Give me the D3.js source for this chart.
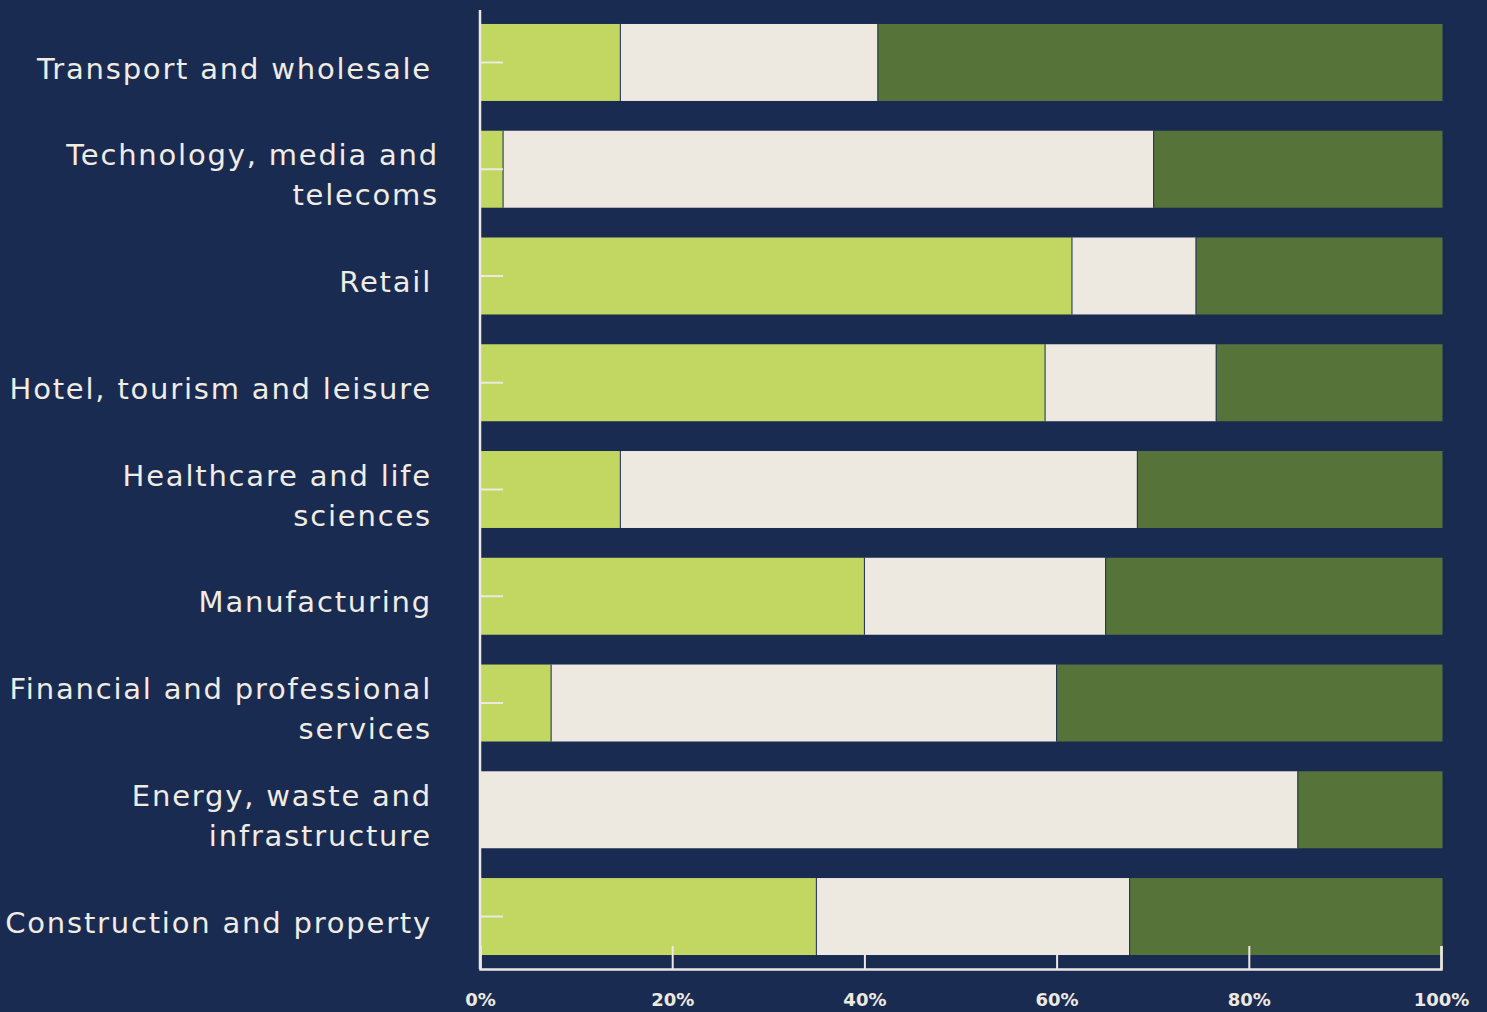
<!DOCTYPE html>
<html>
<head>
<meta charset="utf-8">
<title>Sectors stacked bar</title>
<script src="https://d3js.org/d3.v7.min.js"></script>
<style>
  body { margin: 0; background: #1a2b52; }
</style>
</head>
<body>
<script>
// data, top to bottom
const sectors = [
  ["Transport and wholesale"],
  ["Technology, media and", "telecoms"],
  ["Retail"],
  ["Hotel, tourism and leisure"],
  ["Healthcare and life", "sciences"],
  ["Manufacturing"],
  ["Financial and professional", "services"],
  ["Energy, waste and", "infrastructure"],
  ["Construction and property"]
];
const lightShare = [14.6, 2.4, 61.6, 58.8, 14.6, 40.0, 7.4, 0, 35.0];
const creamShare = [26.8, 67.7, 12.9, 17.8, 53.8, 25.1, 52.6, 85.1, 32.6];
const darkShare  = [58.6, 29.9, 25.5, 23.4, 31.6, 34.9, 40.0, 14.9, 32.4];
const xTicks = [0, 20, 40, 60, 80, 100];

const W = 1487, H = 1012;
const colors = ["#c1d762", "#ede9e0", "#56743a"];
const axisCol = "#ede9e0";

const svg = d3.select("body").append("svg")
  .attr("width", W).attr("height", H)
  .style("display", "block");

svg.append("rect").attr("width", W).attr("height", H).attr("fill", "#1a2b52");

const x = d3.scaleLinear().domain([0, 100]).range([480, 1441]);
const y = d3.scaleBand()
  .domain(d3.range(sectors.length))
  .range([10, 969])
  .paddingInner(0.279)
  .paddingOuter(0.131);

const rows = sectors.map((s, i) => ({i, parts: [lightShare[i], creamShare[i], darkShare[i]]}));

// stacked segments
rows.forEach(r => {
  let acc = 0;
  r.parts.forEach((v, k) => {
    if (v > 0) {
      svg.append("rect")
        .attr("x", x(acc))
        .attr("y", y(r.i))
        .attr("width", x(acc + v) - x(acc) + (k == 2 ? 1.5 : 0))
        .attr("height", y.bandwidth())
        .attr("fill", colors[k]);
      if (acc > 0) {
        svg.append("line")
          .attr("x1", x(acc)).attr("x2", x(acc))
          .attr("y1", y(r.i)).attr("y2", y(r.i) + y.bandwidth())
          .attr("stroke", "#1a2b52").attr("stroke-width", 1);
      }
    }
    acc += v;
  });
});

// y axis: line + inner ticks
svg.append("line")
  .attr("x1", 480).attr("x2", 480).attr("y1", 10).attr("y2", 969)
  .attr("stroke", axisCol).attr("stroke-width", 2.5);
svg.selectAll(".ytick").data(rows).join("line")
  .attr("x1", 480).attr("x2", 503)
  .attr("y1", d => y(d.i) + y.bandwidth() / 2)
  .attr("y2", d => y(d.i) + y.bandwidth() / 2)
  .attr("stroke", axisCol).attr("stroke-width", 2);

// category labels
const lab = svg.append("g")
  .attr("font-family", "DejaVu Sans, sans-serif")
  .attr("font-size", 29)
  .attr("letter-spacing", 1.8)
  .attr("fill", "#f0ece4")
  .attr("text-anchor", "end");
rows.forEach(r => {
  const lines = sectors[r.i];
  const cy = y(r.i) + y.bandwidth() / 2 + 6;
  const lx = (r.i == 1 ? 437 : 430) + 2;
  lines.forEach((t, j) => {
    lab.append("text")
      .attr("x", lx)
      .attr("y", cy + (j - (lines.length - 1) / 2) * 40)
      .attr("dy", "0.35em")
      .text(t);
  });
});

// x axis
const xAxis = svg.append("g")
  .attr("transform", "translate(0,969)")
  .call(d3.axisBottom(x).tickValues(xTicks).tickSize(-23).tickPadding(0).tickFormat(d => d + "%"));
xAxis.select(".domain").attr("stroke", axisCol).attr("stroke-width", 2.5);
xAxis.selectAll(".tick line").attr("stroke", axisCol).attr("stroke-width", 2);
xAxis.selectAll(".tick text")
  .attr("y", 31)
  .attr("dy", "0.35em")
  .attr("fill", axisCol)
  .attr("font-family", "DejaVu Sans, sans-serif")
  .attr("font-weight", "bold")
  .attr("font-size", 18);
</script>
</body>
</html>
